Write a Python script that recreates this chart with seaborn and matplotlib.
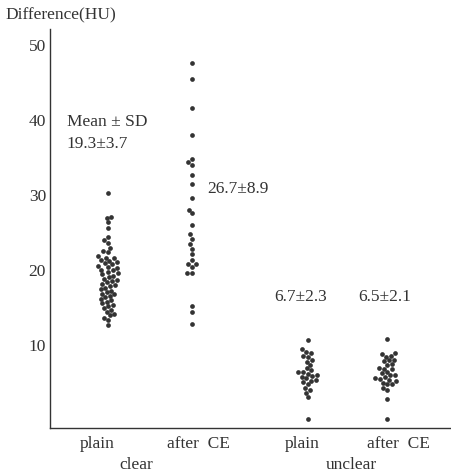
import numpy as np
import pandas as pd
import matplotlib
matplotlib.use("Agg")
import matplotlib.pyplot as plt
import seaborn as sns

# values (HU)
clear_plain = [30.2, 27.0, 26.9, 26.3, 25.6, 24.4, 24.0, 23.6, 22.9, 22.5, 22.3,
               21.8, 21.6, 21.5, 21.3, 21.2, 21.0, 20.9, 20.7, 20.5, 20.4, 20.2, 20.0, 19.9, 19.7,
               19.5, 19.4, 19.2, 19.0, 18.8, 18.6, 18.5, 18.3, 18.1, 18.0, 17.8, 17.6, 17.4, 17.2,
               17.0, 16.8, 16.7, 16.5, 16.3, 16.1, 15.9, 15.7, 15.5, 15.3, 15.1,
               14.9, 14.6, 14.4, 14.1, 13.9, 13.6, 13.3, 12.6]
clear_after = [47.6, 45.4, 41.6, 38.0, 34.7, 34.3, 33.9, 32.6, 31.4, 29.5, 28.0, 27.5,
               25.9, 24.7, 24.1, 23.4, 22.8, 22.1, 21.3, 20.8, 20.8, 20.4, 19.5, 19.5,
               15.1, 14.3, 12.8]
unclear_plain = [10.6, 9.4, 9.0, 8.9, 8.5, 8.4, 7.9, 7.7, 7.3, 6.9, 6.6, 6.4, 6.3, 6.1,
                 6.0, 5.8, 5.7, 5.5, 5.3, 5.2, 5.0, 4.7, 4.2, 4.0, 3.6, 3.0, 0.1]
unclear_after = [10.8, 8.9, 8.8, 8.5, 8.4, 8.0, 7.9, 7.8, 7.4, 7.3, 6.9, 6.8, 6.7, 6.4,
                 6.2, 6.0, 5.9, 5.7, 5.5, 5.4, 5.3, 5.2, 4.9, 4.8, 4.7, 4.2, 4.0, 2.8, 0.1]

tick_labels = ["plain", "after  CE", "plain", "after  CE"]
group_labels = ["clear", "unclear"]
stat_labels = ["19.3±3.7", "26.7±8.9", "6.7±2.3", "6.5±2.1"]

# horizontal placement of the four columns and their labels
xpos = [1.0, 2.0, 3.38, 4.33]
label_pos = [0.87, 2.08, 3.32, 4.46]

series = [clear_plain, clear_after, unclear_plain, unclear_after]
df = pd.concat([pd.DataFrame({"x": p, "HU": v}) for p, v in zip(xpos, series)],
               ignore_index=True)

sns.set_style("white")
plt.rcParams["font.family"] = ["Liberation Serif", "DejaVu Serif"]
ink = "#333333"
fs = 12.5

fig = plt.figure(figsize=(4.52, 4.75), dpi=100)
ax = fig.add_axes([0.111, 0.099, 0.889, 0.840])

sns.swarmplot(data=df, x="x", y="HU", native_scale=True, color=ink, size=3.4,
              linewidth=0, ax=ax)

ax.set_xlim(0.31, 5.1)
ax.set_ylim(-1.1, 52.1)
ax.set_yticks([10, 20, 30, 40, 50])
ax.tick_params(axis="y", direction="in", length=5, width=0.9, colors=ink,
               labelsize=fs, pad=3)
ax.set_xticks(label_pos)
ax.set_xticklabels(tick_labels)
ax.tick_params(axis="x", length=0, labelsize=fs, colors=ink, pad=6)
ax.set_xlabel("")
ax.set_ylabel("")
for s in ["top", "right"]:
    ax.spines[s].set_visible(False)
for s in ["left", "bottom"]:
    ax.spines[s].set_color(ink)
    ax.spines[s].set_linewidth(1.0)

fig.text(0.012, 0.968, "Difference(HU)", fontsize=fs, color=ink, va="center")
fig.text(0.301, 0.021, group_labels[0], fontsize=fs, color=ink, ha="center", va="center")
fig.text(0.777, 0.021, group_labels[1], fontsize=fs, color=ink, ha="center", va="center")

ax.text(0.51, 39.7, "Mean ± SD", fontsize=fs, color=ink, va="center")
ax.text(0.51, 36.7, stat_labels[0], fontsize=fs, color=ink, va="center")
ax.text(2.18, 30.7, stat_labels[1], fontsize=fs, color=ink, va="center")
ax.text(2.98, 16.4, stat_labels[2], fontsize=fs, color=ink, va="center")
ax.text(3.98, 16.4, stat_labels[3], fontsize=fs, color=ink, va="center")

fig.savefig("out.png", dpi=100)
